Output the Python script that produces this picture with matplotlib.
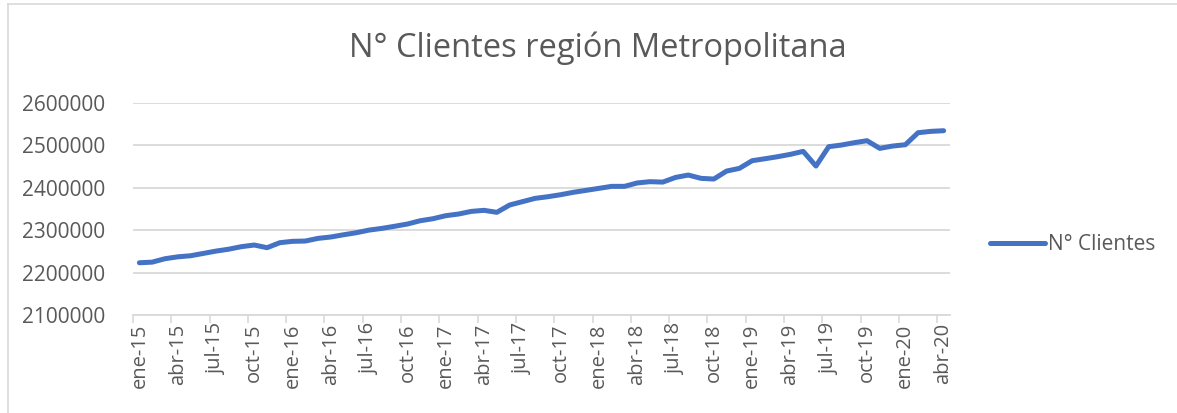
import matplotlib
matplotlib.use("Agg")
import matplotlib.pyplot as plt
from matplotlib.lines import Line2D

# Monthly customers, ene-15 .. abr-20
meses = ["ene", "feb", "mar", "abr", "may", "jun", "jul", "ago", "sep", "oct", "nov", "dic"]
anios = [15, 16, 17, 18, 19, 20]
clientes = [
    2223000, 2224500, 2232500, 2237000, 2239500, 2245000, 2250500, 2255000,
    2261000, 2264800, 2258500, 2270300, 2273500, 2274200, 2280500, 2283700,
    2289000, 2293800, 2300000, 2304000, 2309000, 2314300, 2322000, 2326800,
    2333900, 2337800, 2344000, 2346500, 2341800, 2359000, 2366900, 2374700,
    2378600, 2383300, 2389000, 2393600, 2398300, 2403000, 2403000, 2411000,
    2414000, 2413000, 2424000, 2429600, 2421800, 2420200, 2439000, 2445300,
    2463400, 2468000, 2472800, 2478400, 2485400, 2450800, 2496400, 2500300,
    2505800, 2510500, 2492400, 2497900, 2501000, 2529300, 2532500, 2534000,
]
etiquetas = [f"{m}-{a}" for a in anios for m in meses][:len(clientes)]

gris_txt = "#595959"
gris_lin = "#D9D9D9"
azul = "#4472C4"
fuente = ["Open Sans", "DejaVu Sans"]

fig = plt.figure(figsize=(11.77, 4.13), dpi=100)
ax = fig.add_axes([133 / 1177, 1 - 315 / 413, (950 - 133) / 1177, (315 - 102.7) / 413])

x = list(range(len(clientes)))
ax.plot(x, clientes, color=azul, linewidth=3.6, solid_capstyle="round",
        solid_joinstyle="round", label="N° Clientes", zorder=3)

ax.set_xlim(-0.5, len(clientes) - 0.5)
ax.set_ylim(2100000, 2600000)
ax.set_yticks(range(2100000, 2600001, 100000))
ax.set_yticklabels([str(v) for v in range(2100000, 2600001, 100000)],
                   fontsize=15, color=gris_txt, family=fuente)
ax.tick_params(axis="y", length=0, pad=20)

pos = x[::3]
ax.set_xticks(pos)
ax.set_xticklabels([etiquetas[i] for i in pos], rotation=90, fontsize=14.5,
                   color=gris_txt, family=fuente)
ax.set_xticks([p - 0.5 for p in range(0, len(clientes) + 1, 3)], minor=True)
ax.tick_params(axis="x", which="major", length=0, pad=6)
ax.tick_params(axis="x", which="minor", length=6, color=gris_lin, width=1.2)

ax.grid(axis="y", color=gris_lin, linewidth=1.3)
ax.set_axisbelow(True)
for lado in ["left", "right", "top"]:
    ax.spines[lado].set_visible(False)
ax.spines["bottom"].set_color(gris_lin)
ax.spines["bottom"].set_linewidth(1.3)

fig.text(598 / 1177, 1 - 48 / 413, "N° Clientes región Metropolitana",
         ha="center", va="center", fontsize=23.5, color=gris_txt, family=fuente)

leg = fig.legend(loc="center left", bbox_to_anchor=(982 / 1177, 1 - 245 / 413),
                 frameon=False, handlelength=2.6, handletextpad=0.15,
                 borderaxespad=0, prop={"family": fuente, "size": 15})
for t in leg.get_texts():
    t.set_color(gris_txt)

# chart frame: only the top and left edges show in the crop
x0, y0 = 8 / 1177, 1 - 4 / 413
fig.add_artist(Line2D([x0, 1], [y0, y0], transform=fig.transFigure, color=gris_lin, linewidth=1.2))
fig.add_artist(Line2D([x0, x0], [0, y0], transform=fig.transFigure, color=gris_lin, linewidth=1.2))

fig.savefig("out.png", dpi=100)
